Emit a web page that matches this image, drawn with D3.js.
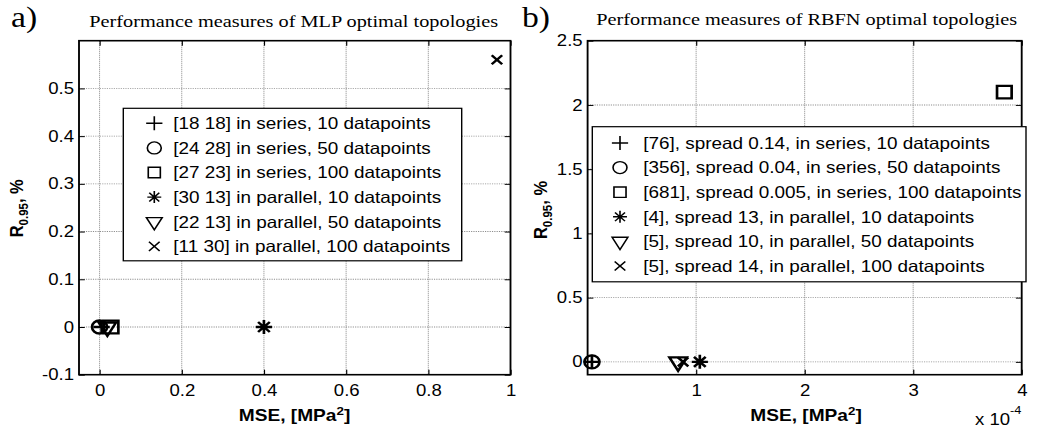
<!DOCTYPE html>
<html><head><meta charset="utf-8">
<script src="https://cdn.jsdelivr.net/npm/d3@7"></script>
<style>body{margin:0;background:#fff} svg{display:block}</style>
</head><body>
<script>
// ---------------- data ----------------
const mlpLabels = [
  "[18 18] in series, 10 datapoints",
  "[24 28] in series, 50 datapoints",
  "[27 23] in series, 100 datapoints",
  "[30 13] in parallel, 10 datapoints",
  "[22 13] in parallel, 50 datapoints",
  "[11 30] in parallel, 100 datapoints"
];
const mlpMSE = [0.005, 0.0, 0.028, 0.40, 0.019, 0.967];
const mlpR   = [0, 0, 0, 0, 0, 0.56];

const rbfnLabels = [
  "[76], spread 0.14, in series, 10 datapoints",
  "[356], spread 0.04, in series, 50 datapoints",
  "[681], spread 0.005, in series, 100 datapoints",
  "[4], spread 13, in parallel, 10 datapoints",
  "[5], spread 10, in parallel, 50 datapoints",
  "[5], spread 14, in parallel, 100 datapoints"
];
const rbfnMSE = [0.04e-4, 0.04e-4, 3.84e-4, 1.034e-4, 0.834e-4, 0.88e-4];
const rbfnR   = [0, 0, 2.10, 0, 0, 0];

const markerTypes = ["plus", "circle", "square", "star", "triangle", "x"];

const mlpXTicks = [0, 0.2, 0.4, 0.6, 0.8, 1];
const mlpXTickLabels = ["0", "0.2", "0.4", "0.6", "0.8", "1"];
const mlpYTicks = [-0.1, 0, 0.1, 0.2, 0.3, 0.4, 0.5];
const mlpYTickLabels = ["-0.1", "0", "0.1", "0.2", "0.3", "0.4", "0.5"];

const rbfnXTicks = [1e-4, 2e-4, 3e-4, 4e-4];
const rbfnXTickLabels = ["1", "2", "3", "4"];
const rbfnYTicks = [0, 0.5, 1, 1.5, 2, 2.5];
const rbfnYTickLabels = ["0", "0.5", "1", "1.5", "2", "2.5"];

// ---------------- drawing ----------------
const W = 1037, H = 434;
const SX = 1.16;               // horizontal stretch of the original picture
const u = v => v / SX;         // screen x -> inner coordinates
const SANS = "Arial, 'Liberation Sans', Helvetica, sans-serif";
const SERIF = "'Times New Roman', 'Liberation Serif', Times, serif";

const svg = d3.select("body").append("svg").attr("width", W).attr("height", H);
svg.append("rect").attr("width", W).attr("height", H).attr("fill", "#fff");
const root = svg.append("g").attr("transform", `scale(${SX},1)`);

function markerPath(type, s) {
  switch (type) {
    case "plus": return `M${-s},0H${s}M0,${-s}V${s}`;
    case "x": return `M${-s},${-s}L${s},${s}M${-s},${s}L${s},${-s}`;
    case "star": { const d = s * 0.72; return `M${-s},0H${s}M0,${-s}V${s}M${-d},${-d}L${d},${d}M${-d},${d}L${d},${-d}`; }
    case "square": return `M${-s},${-s}H${s}V${s}H${-s}Z`;
    case "circle": return `M${s},0A${s},${s} 0 1,1 ${-s},0A${s},${s} 0 1,1 ${s},0Z`;
    case "triangle": return `M${-s},${-s * 0.6}L${s},${-s * 0.6}L0,${s * 1.2}Z`;
  }
}
const plotSize = {plus: 7, circle: 6.5, square: 6.3, star: 7, triangle: 7.5, x: 4.5};
const legSize  = {plus: 7, circle: 6, square: 5.2, star: 6, triangle: 6.8, x: 4.6};

function drawPanel(p) {
  const x = d3.scaleLinear().domain(p.xDomain).range([u(p.left), u(p.right)]);
  const y = d3.scaleLinear().domain(p.yDomain).range([p.bottom, p.top]);
  const g = root.append("g");
  const L = u(p.left), R = u(p.right);

  // grid
  g.append("g").selectAll("line").data(p.xTicks.filter(t => x(t) > L + 1 && x(t) < R - 1)).join("line")
    .attr("x1", d => x(d)).attr("x2", d => x(d)).attr("y1", p.top).attr("y2", p.bottom)
    .attr("stroke", "#8c8c8c").attr("stroke-width", 0.9).attr("stroke-dasharray", "1,1");
  g.append("g").selectAll("line").data(p.yTicks.filter(t => y(t) < p.bottom - 1 && y(t) > p.top + 1)).join("line")
    .attr("x1", L).attr("x2", R).attr("y1", d => y(d)).attr("y2", d => y(d))
    .attr("stroke", "#8c8c8c").attr("stroke-width", 0.9).attr("stroke-dasharray", "1,1");

  // axes
  const styleAxis = sel => {
    sel.attr("font-family", SANS).attr("font-size", 16);
    sel.selectAll(".domain").remove();
    sel.selectAll(".tick line").attr("stroke", "#000").attr("stroke-width", 1);
    sel.selectAll("text").attr("fill", "#000");
  };
  g.append("g").attr("transform", `translate(0,${p.bottom})`)
    .call(d3.axisBottom(x).tickValues(p.xTicks).tickFormat((d, i) => p.xTickLabels[i]).tickSize(-5).tickPadding(10))
    .call(styleAxis);
  g.append("g").attr("transform", `translate(0,${p.top})`)
    .call(d3.axisTop(x).tickValues(p.xTicks).tickFormat("").tickSize(-5))
    .call(styleAxis);
  g.append("g").attr("transform", `translate(${L},0)`)
    .call(d3.axisLeft(y).tickValues(p.yTicks).tickFormat((d, i) => p.yTickLabels[i]).tickSize(-5).tickPadding(u(5)))
    .call(styleAxis);
  g.append("g").attr("transform", `translate(${R},0)`)
    .call(d3.axisRight(y).tickValues(p.yTicks).tickFormat("").tickSize(-5))
    .call(styleAxis);
  g.append("rect").attr("x", L).attr("y", p.top).attr("width", R - L).attr("height", p.bottom - p.top)
    .attr("fill", "none").attr("stroke", "#000").attr("stroke-width", 1.6);

  // markers
  g.append("g").selectAll("path").data(p.xs.map((v, i) => ({x: v, y: p.ys[i], t: markerTypes[i]}))).join("path")
    .attr("transform", d => `translate(${x(d.x)},${y(d.y)})`)
    .attr("d", d => markerPath(d.t, plotSize[d.t]))
    .attr("fill", "none").attr("stroke", "#000").attr("stroke-width", 2.3);

  // legend
  const lg = p.legend;
  const rowH = 24.6;
  const n = p.labels.length;
  const lgBottom = lg.y0 + lg.first + (n - 1) * rowH + lg.first - 0.5;
  g.append("rect").attr("x", u(lg.x0)).attr("y", lg.y0).attr("width", u(lg.x1) - u(lg.x0)).attr("height", lgBottom - lg.y0)
    .attr("fill", "#fff").attr("stroke", "#000").attr("stroke-width", 1.2);
  const rows = g.append("g").selectAll("g").data(p.labels.map((s, i) => ({s, t: markerTypes[i], i}))).join("g")
    .attr("transform", d => `translate(0,${lg.y0 + lg.first + d.i * rowH})`);
  rows.append("path").attr("transform", `translate(${u(lg.symX)},0)`)
    .attr("d", d => markerPath(d.t, legSize[d.t]))
    .attr("fill", "none").attr("stroke", "#000").attr("stroke-width", 1.4);
  rows.append("text").attr("x", u(lg.textX)).attr("y", 5.8)
    .attr("font-family", SANS).attr("font-size", 16.3).attr("fill", "#000").text(d => d.s);

  // title and panel letter
  g.append("text").attr("x", u(p.titleX)).attr("y", p.titleY).attr("text-anchor", "middle")
    .attr("font-family", SERIF).attr("font-size", 17.5).attr("fill", "#000").text(p.title);
  g.append("text").attr("x", u(p.letterX)).attr("y", 27)
    .attr("font-family", SERIF).attr("font-size", 29).attr("fill", "#000").text(p.letter);

  // y label
  const yl = g.append("text").attr("transform", `translate(${u(p.ylabX)},${p.ylabY}) rotate(-90)`)
    .attr("text-anchor", "middle").attr("font-family", SANS).attr("font-size", 16.5).attr("font-weight", "bold").attr("fill", "#000");
  yl.append("tspan").text("R");
  yl.append("tspan").attr("font-size", 11.5).attr("dy", 4).text("0.95");
  yl.append("tspan").attr("dy", -4).text(", %");

  // x label
  const xl = g.append("text").attr("x", u(p.xlabX)).attr("y", 421).attr("text-anchor", "middle")
    .attr("font-family", SANS).attr("font-size", 16.5).attr("font-weight", "bold").attr("fill", "#000");
  xl.append("tspan").text("MSE, [MPa");
  xl.append("tspan").attr("font-size", 11.5).attr("dy", -6).text("2");
  xl.append("tspan").attr("dy", 6).text("]");

  if (p.exponent) {
    const ex = g.append("text").attr("x", u(975)).attr("y", 425)
      .attr("font-family", SANS).attr("font-size", 16).attr("fill", "#000");
    ex.append("tspan").text("x 10");
    ex.append("tspan").attr("font-size", 11).attr("dy", -11).text("-4");
  }
}

drawPanel({
  labels: mlpLabels, xs: mlpMSE, ys: mlpR,
  xDomain: [-0.05, 1], yDomain: [-0.1, 0.6],
  xTicks: mlpXTicks, xTickLabels: mlpXTickLabels, yTicks: mlpYTicks, yTickLabels: mlpYTickLabels,
  left: 79, right: 510.5, top: 40.7, bottom: 374.7,
  title: "Performance measures of MLP optimal topologies", titleX: 293.7, titleY: 26.7,
  letter: "a)", letterX: 11,
  legend: {x0: 123.3, x1: 461.7, y0: 108.3, first: 15, symX: 154.3, textX: 173.3},
  ylabX: 23.3, ylabY: 208.3, xlabX: 294.5, exponent: false
});
drawPanel({
  labels: rbfnLabels, xs: rbfnMSE, ys: rbfnR,
  xDomain: [0, 4e-4], yDomain: [-0.1, 2.5],
  xTicks: rbfnXTicks, xTickLabels: rbfnXTickLabels, yTicks: rbfnYTicks, yTickLabels: rbfnYTickLabels,
  left: 587.6, right: 1021.7, top: 40.7, bottom: 374.7,
  title: "Performance measures of RBFN optimal topologies", titleX: 806.7, titleY: 25,
  letter: "b)", letterX: 522,
  legend: {x0: 592.3, x1: 1026, y0: 126.7, first: 16.3, symX: 620, textX: 643.3},
  ylabX: 547, ylabY: 210, xlabX: 806, exponent: true
});
</script>
</body></html>
